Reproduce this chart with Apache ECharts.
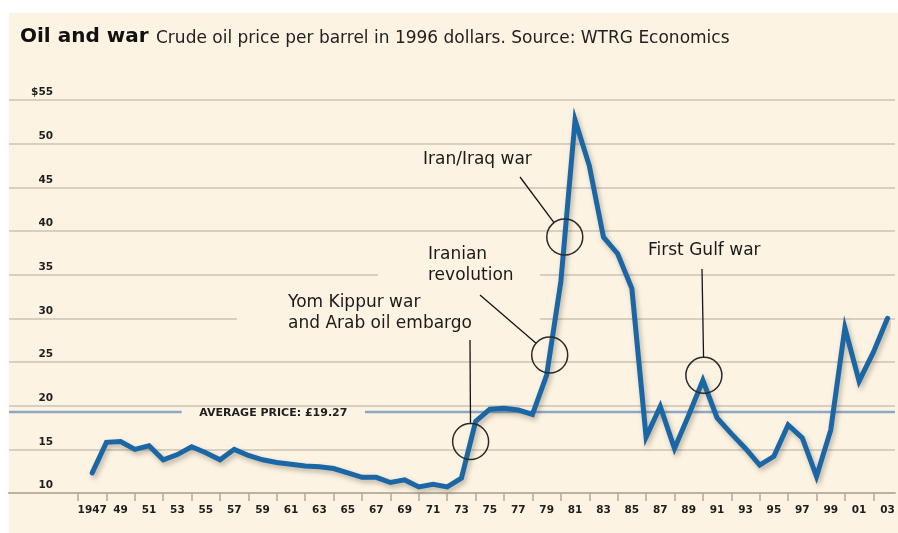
<!DOCTYPE html>
<html>
<head>
<meta charset="utf-8">
<script src="https://cdn.jsdelivr.net/npm/echarts/dist/echarts.min.js"></script>
<style>
html,body{margin:0;padding:0;background:#ffffff;}
#c{width:898px;height:533px;}
</style>
</head>
<body>
<div id="c"></div>
<script>
// ---------------- data ----------------
const categories = ['1946','1947','1948','1949','1950','1951','1952','1953','1954','1955','1956','1957','1958','1959',
  '1960','1961','1962','1963','1964','1965','1966','1967','1968','1969','1970','1971','1972','1973','1974','1975',
  '1976','1977','1978','1979','1980','1981','1982','1983','1984','1985','1986','1987','1988','1989','1990','1991',
  '1992','1993','1994','1995','1996','1997','1998','1999','2000','2001','2002','2003'];
// crude oil price per barrel (1996 dollars), 1947..2003
const prices = [12.3, 15.8, 15.9, 15.0, 15.4, 13.8, 14.4, 15.3, 14.6, 13.8,
  15.0, 14.3, 13.8, 13.5, 13.3, 13.1, 13.0, 12.8, 12.3, 11.8,
  11.8, 11.2, 11.5, 10.7, 11.0, 10.7, 11.7, 18.2, 19.6, 19.7,
  19.5, 19.0, 23.5, 34.2, 52.7, 47.5, 39.3, 37.4, 33.4, 16.4,
  19.9, 15.1, 18.9, 22.9, 18.6, 16.8, 15.1, 13.2, 14.2, 17.8,
  16.3, 11.9, 17.2, 28.9, 22.8, 26.1, 30.0];
const yTicks = [10, 15, 20, 25, 30, 35, 40, 45, 50, 55];
const AVERAGE = 19.27;
const averageLabel = 'AVERAGE PRICE: £19.27';
const titleText = 'Oil and war';
const subtitleText = 'Crude oil price per barrel in 1996 dollars. Source: WTRG Economics';
const notes = [
  {lines: ['Yom Kippur war', 'and Arab oil embargo'], from: '1973', value: 15.9},
  {lines: ['Iranian', 'revolution'], from: '1978', value: 25.8},
  {lines: ['Iran/Iraq war'], from: '1979', value: 39.3},
  {lines: ['First Gulf war'], at: '1990'}
];

// ---------------- layout ----------------
const BG = '#fdf3e2';
const G1 = {left: 78, right: 10.5, top: 100, bottom: 40};
const G2 = {left: 9, right: 3, top: 100, bottom: 40};
const W = 898;
const pxPerCat = (W - G1.right - G1.left) / (categories.length - 1);
const firstYear = +categories[0];
const x2min = firstYear - (G1.left - G2.left) / pxPerCat;
const x2max = +categories[categories.length - 1] + (G1.right - G2.right) / pxPerCat;
const gapStart = firstYear + (181.7 - G1.left) / pxPerCat;
const gapEnd = firstYear + (365 - G1.left) / pxPerCat;
const tickFont = {fontFamily: 'DejaVu Sans', fontWeight: 'bold', fontSize: 10.5, color: '#1e1e1e'};

const chart = echarts.init(document.getElementById('c'), null, {renderer: 'canvas', devicePixelRatio: 1});

chart.setOption({
  animation: false,
  backgroundColor: '#ffffff',
  grid: [
    Object.assign({outerBoundsMode: 'none', containLabel: false}, G1),
    Object.assign({outerBoundsMode: 'none', containLabel: false}, G2)
  ],
  xAxis: [
    {
      type: 'category', gridIndex: 0, data: categories, boundaryGap: false,
      axisLine: {show: false},
      axisTick: {show: true, length: 8, interval: (i, v) => (+v) % 2 === 0,
        lineStyle: {color: '#b3ab9b', width: 1.5}},
      axisLabel: Object.assign({show: true, margin: 12,
        interval: (i, v) => (+v) % 2 === 1,
        formatter: v => (v === '1947' ? v : v.slice(2))}, tickFont),
      splitLine: {show: false}
    },
    {
      type: 'value', gridIndex: 1, min: x2min, max: x2max,
      axisLine: {show: true, onZero: false, lineStyle: {color: '#bab2a2', width: 2}},
      axisTick: {show: false}, axisLabel: {show: false}, splitLine: {show: false}
    }
  ],
  yAxis: [
    {type: 'value', gridIndex: 0, min: yTicks[0], max: yTicks[yTicks.length - 1], show: false},
    {
      type: 'value', gridIndex: 1, min: yTicks[0], max: yTicks[yTicks.length - 1],
      interval: yTicks[1] - yTicks[0],
      axisLine: {show: false}, axisTick: {show: false},
      axisLabel: Object.assign({inside: true, align: 'right', margin: 44, verticalAlign: 'bottom',
        padding: [0, 0, 2, 0],
        formatter: v => (v === yTicks[yTicks.length - 1] ? '$' + v : String(v))}, tickFont),
      splitLine: {show: true, lineStyle: {color: '#cbc3b2', width: 1.5}}
    }
  ],
  series: [
    {
      name: 'average', type: 'line', xAxisIndex: 1, yAxisIndex: 1, symbol: 'none', z: 2,
      connectNulls: false,
      lineStyle: {color: '#8fa6c6', width: 2.5},
      data: [[x2min, AVERAGE], [gapStart, AVERAGE], [gapStart, '-'], [gapEnd, '-'], [gapEnd, AVERAGE], [x2max, AVERAGE]]
    },
    {
      name: 'price', type: 'line', xAxisIndex: 0, yAxisIndex: 0, symbol: 'none', z: 5,
      lineStyle: {color: '#1b67a5', width: 5, join: 'miter', cap: 'round',
        shadowColor: 'rgba(70,60,40,0.35)', shadowBlur: 5, shadowOffsetX: 2, shadowOffsetY: 3},
      data: ['-'].concat(prices)
    }
  ]
});

// ---------------- annotations ----------------
function pix(catIdx, val) { return chart.convertToPixel({gridIndex: 0}, [catIdx, val]); }
function crossing(fromYear, value) {
  const start = categories.indexOf(fromYear);
  for (let c = start; c < categories.length - 1; c++) {
    const a = prices[c - 1], b = prices[c];
    if (a == null || b == null) continue;
    if ((a - value) * (b - value) <= 0 && a !== b) {
      const p0 = pix(c, a), p1 = pix(c + 1, b);
      const t = (value - a) / (b - a);
      return [p0[0] + (p1[0] - p0[0]) * t, p0[1] + (p1[1] - p0[1]) * t];
    }
  }
  return pix(start, value);
}
const R = 18;
const layout = [
  {x: 288, y: [303, 324], leader: [470, 340]},
  {x: 428, y: [254.5, 276], leader: [480, 295]},
  {x: 423, y: [159.5], leader: [520, 177]},
  {x: 648, y: [251], leader: [702, 269], dy: -5}
];
const graphics = [];
graphics.push({type: 'rect', z: -10, shape: {x: 9, y: 13, width: W - 9, height: 533 - 13}, style: {fill: BG}});
// gaps in the grid lines behind the annotation texts
const y35 = chart.convertToPixel({gridIndex: 1}, [x2min, 35])[1];
const y30 = chart.convertToPixel({gridIndex: 1}, [x2min, 30])[1];
graphics.push({type: 'rect', z: 1, shape: {x: 378, y: y35 - 2.5, width: 162, height: 5}, style: {fill: BG}});
graphics.push({type: 'rect', z: 1, shape: {x: 237, y: y30 - 2.5, width: 303, height: 5}, style: {fill: BG}});
// average label
const avgMid = chart.convertToPixel({gridIndex: 1}, [(gapStart + gapEnd) / 2, AVERAGE]);
graphics.push({type: 'text', z: 6, x: avgMid[0], y: avgMid[1] + 1,
  style: {text: averageLabel, font: 'bold 11px "DejaVu Sans"', fill: '#1e1e1e', align: 'center', verticalAlign: 'middle'}});
// title
graphics.push({type: 'text', z: 6, x: 20, y: 37,
  style: {text: titleText, font: 'bold 20px "DejaVu Sans"', fill: '#111', align: 'left', verticalAlign: 'middle'}});
graphics.push({type: 'text', z: 6, x: 156, y: 38.5,
  style: {text: subtitleText, font: '17px "DejaVu Sans"', fill: '#222', align: 'left', verticalAlign: 'middle'}});

notes.forEach((n, i) => {
  const L = layout[i];
  let c;
  if (n.at) {
    const idx = categories.indexOf(n.at);
    c = pix(idx, prices[idx - 1]);
    c = [c[0] + 1, c[1] + (L.dy || 0)];
  } else {
    c = crossing(n.from, n.value);
  }
  graphics.push({type: 'circle', z: 10, shape: {cx: c[0], cy: c[1], r: R},
    style: {fill: 'none', stroke: '#2b2b2b', lineWidth: 1.5}});
  const dx = L.leader[0] - c[0], dy = L.leader[1] - c[1];
  const d = Math.sqrt(dx * dx + dy * dy);
  graphics.push({type: 'line', z: 10, shape: {x1: L.leader[0], y1: L.leader[1],
    x2: c[0] + dx / d * R, y2: c[1] + dy / d * R}, style: {stroke: '#151515', lineWidth: 1.3}});
  n.lines.forEach((t, k) => {
    graphics.push({type: 'text', z: 10, x: L.x, y: L.y[k],
      style: {text: t, font: '17px "DejaVu Sans"', fill: '#1a1a1a', align: 'left', verticalAlign: 'middle'}});
  });
});

chart.setOption({graphic: {elements: graphics}});
</script>
</body>
</html>
